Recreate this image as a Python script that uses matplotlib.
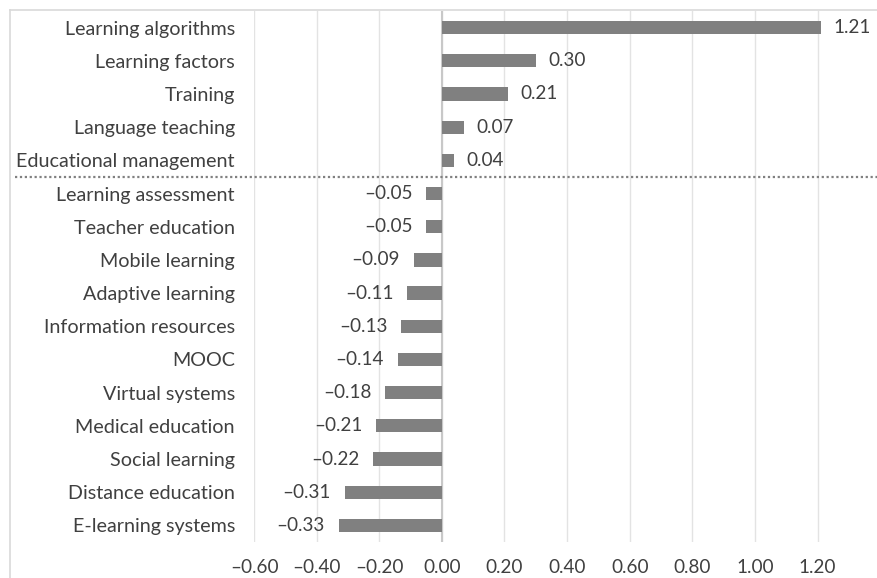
import numpy as np
import matplotlib.pyplot as plt
from matplotlib.lines import Line2D

categories = ["Learning algorithms", "Learning factors", "Training", "Language teaching",
              "Educational management", "Learning assessment", "Teacher education",
              "Mobile learning", "Adaptive learning", "Information resources", "MOOC",
              "Virtual systems", "Medical education", "Social learning",
              "Distance education", "E-learning systems"]
values = [1.21, 0.30, 0.21, 0.07, 0.04, -0.05, -0.05, -0.09, -0.11, -0.13, -0.14,
          -0.18, -0.21, -0.22, -0.31, -0.33]
xticks = [-0.6, -0.4, -0.2, 0.0, 0.2, 0.4, 0.6, 0.8, 1.0, 1.2]

plt.rcParams['font.family'] = ['Lato', 'DejaVu Sans']
txt = '#404040'
fs_cat = 14.2
fs_num = 13.6

W, H = 877, 578
fig = plt.figure(figsize=(W / 100, H / 100), dpi=100)
ax = fig.add_axes([254 / W, 1 - 542 / H, (W - 254) / W, (542 - 11) / H])

y = np.arange(len(categories))
ax.barh(y, values, height=0.4, color='#808080', zorder=3)

def fmt(v):
    s = f"{abs(v):.2f}"
    return ("\u2013" + s) if v < 0 else s

for yi, v in zip(y, values):
    if v >= 0:
        ax.annotate(fmt(v), (v, yi), xytext=(9, 0), textcoords='offset points',
                    ha='left', va='center', fontsize=fs_num, color=txt)
    else:
        ax.annotate(fmt(v), (v, yi), xytext=(-10, 0), textcoords='offset points',
                    ha='right', va='center', fontsize=fs_num, color=txt)

ax.set_xlim(-0.6, 1.39)
ax.set_ylim(len(categories) - 0.5, -0.5)
ax.set_xticks(xticks)
ax.set_xticklabels([fmt(t) for t in xticks])
ax.set_yticks(y)
ax.set_yticklabels(categories)
ax.tick_params(axis='x', length=0, pad=12, labelsize=fs_num, labelcolor=txt)
ax.tick_params(axis='y', length=0, pad=13.7, labelsize=fs_cat, labelcolor=txt)
ax.grid(axis='x', color='#e3e3e3', lw=1, zorder=0)
for s in ax.spines.values():
    s.set_visible(False)
ax.axvline(0, color='#c8c8c8', lw=1.5, zorder=2)

# divider between positive and negative
ax.axhline(4.5, xmin=(15 - 254) / (W - 254), xmax=1, color='#808080', lw=1.6,
           linestyle=(0, (1, 1.2)), clip_on=False, zorder=4)

# chart frame
fig.add_artist(Line2D([10 / W, 10 / W], [0, 1 - 10 / H], color='#d9d9d9', lw=1.2))
fig.add_artist(Line2D([10 / W, 1], [1 - 10 / H, 1 - 10 / H], color='#d9d9d9', lw=1.2))

fig.savefig('out.png', dpi=100)
